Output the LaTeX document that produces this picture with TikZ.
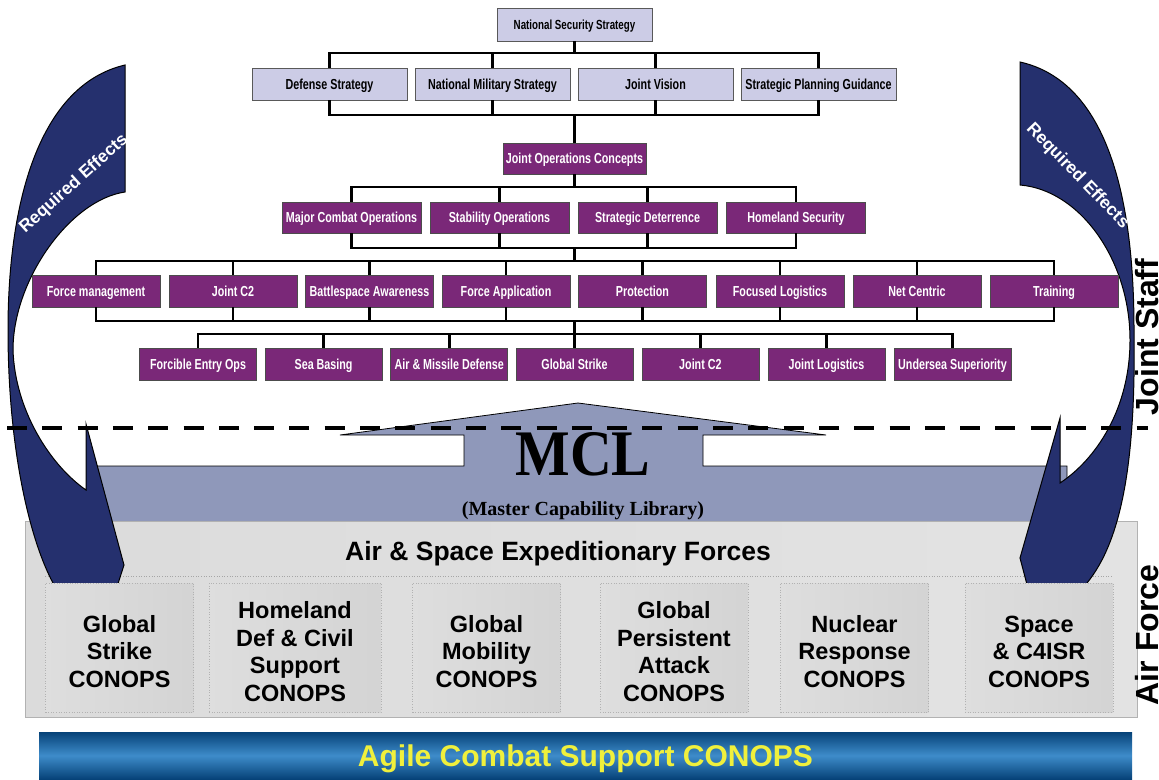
\documentclass[tikz,border=0pt]{standalone}
\usepackage{fontspec}
\setmainfont{Liberation Sans}
\newfontfamily\narrowfont[FakeStretch=0.74]{Liberation Sans}
\newfontfamily\timesfont{Liberation Serif}
\definecolor{lav}{RGB}{204,204,230}
\definecolor{purp}{RGB}{122,40,120}
\definecolor{navy}{RGB}{37,48,110}
\definecolor{mclblue}{RGB}{143,152,186}
\definecolor{barblue}{RGB}{62,140,202}
\definecolor{bardark}{RGB}{6,66,120}
\definecolor{yel}{RGB}{240,240,60}
\begin{document}
\begin{tikzpicture}[x=1pt,y=-1pt,
 conn/.style={line width=2.6pt},
 tbox/.style={line width=0.8pt, inner sep=0pt, minimum height=32pt, text height=10.4pt, text depth=0pt, font={\narrowfont\bfseries\fontsize{14.5}{16}\selectfont}},
 lavbox/.style={tbox, draw=black!65, fill=lav, text=black},
 purbox/.style={tbox, draw=black!70, fill=purp, text=white},
 conbox/.style={draw=black!30, dotted, line width=0.6pt, minimum width=148pt, minimum height=129pt, inner sep=0pt, left color=black!13, middle color=white, right color=black!17},
 context/.style={align=center, inner sep=0pt, font={\bfseries\fontsize{23.5}{27.5}\selectfont}},
 effects/.style={text=white, font={\bfseries\fontsize{17.5}{20}\selectfont}},
 side/.style={font={\bfseries\fontsize{32}{34}\selectfont}, rotate=90, inner sep=0pt},
 arrowshape/.style={fill=navy, draw=black, line width=1pt, line join=miter},
]
\useasboundingbox (0,0) rectangle (1159,779);

% MCL block arrow
\filldraw[fill=mclblue, draw=black, line width=0.8pt]
  (340,435) -- (578,403) -- (826,435) -- (703,435) -- (703,466) -- (1067,466)
  -- (1067,526) -- (92,526) -- (92,466) -- (464,466) -- (464,435) -- cycle;

% Air & Space Expeditionary Forces container
\node[draw=black!30, line width=0.8pt, minimum width=1112pt, minimum height=196pt, inner sep=0pt,
      left color=black!14, middle color=black!6, right color=black!11] (aef) at (581,619) {};
\coordinate (sepl) at (45,576);
\coordinate (sepr) at (1113,576);
\draw[black!35, dotted, line width=0.6pt] (sepl) -- (sepr);
\node[font={\bfseries\fontsize{26.5}{30}\selectfont}, text depth=0pt] (aeft) at (558,551) {Air \& Space Expeditionary Forces};

% Required Effects arrows
\filldraw[arrowshape]
  (125,65) .. controls (40,85) and (8,200) .. (8,330)
  .. controls (8,450) and (30,540) .. (53,583)
  -- (62,615) -- (108,615) -- (124,565) -- (86,424) -- (86,490)
  .. controls (50,465) and (15,410) .. (13,350)
  .. controls (13,280) and (70,200) .. (125,192) -- cycle;
\filldraw[arrowshape]
  (1020,62) .. controls (1100,80) and (1134,180) .. (1134,330)
  .. controls (1136,460) and (1122,540) .. (1087,583)
  -- (1080,615) -- (1035,615) -- (1020,558) -- (1060,418) -- (1060,483)
  .. controls (1095,460) and (1130,410) .. (1130,340)
  .. controls (1130,260) and (1080,190) .. (1020,185) -- cycle;
\node[effects, rotate=42] (rel) at (74,184) {Required Effects};
\node[effects, rotate=-46] (rer) at (1077.5,176) {Required Effects};

% Tree: row 1 and 2
\node[lavbox, minimum width=155pt, minimum height=33pt, text height=9.5pt, font={\narrowfont\bfseries\fontsize{13.2}{15}\selectfont}] (nss) at (574.5,24.5) {National Security Strategy};
\node[lavbox, minimum width=155pt] (ds)  at (329.5,84) {Defense Strategy};
\node[lavbox, minimum width=155pt] (nms) at (492.5,84) {National Military Strategy};
\node[lavbox, minimum width=155pt] (jv)  at (655.5,84) {Joint Vision};
\node[lavbox, minimum width=155pt] (spg) at (818.5,84) {Strategic Planning Guidance};
\node[purbox, minimum width=143pt, minimum height=31pt] (joc) at (574.5,158.5) {Joint Operations Concepts};
% row 3
\node[purbox, minimum width=139pt, minimum height=31pt] (mco) at (351.5,217.5) {Major Combat Operations};
\node[purbox, minimum width=139pt, minimum height=31pt] (so)  at (499.5,217.5) {Stability Operations};
\node[purbox, minimum width=139pt, minimum height=31pt] (sd)  at (647.5,217.5) {Strategic Deterrence};
\node[purbox, minimum width=139pt, minimum height=31pt] (hs)  at (796,217.5) {Homeland Security};
% row 4
\node[purbox, minimum width=128pt] (fm)  at (96,291) {Force management};
\node[purbox, minimum width=128pt] (jc)  at (233,291) {Joint C2};
\node[purbox, minimum width=128pt] (ba)  at (369.5,291) {Battlespace Awareness};
\node[purbox, minimum width=128pt] (fa)  at (506,291) {Force Application};
\node[purbox, minimum width=128pt] (pr)  at (642.5,291) {Protection};
\node[purbox, minimum width=128pt] (fl)  at (780,291) {Focused Logistics};
\node[purbox, minimum width=128pt] (nc)  at (917,291) {Net Centric};
\node[purbox, minimum width=128pt] (tr)  at (1054,291) {Training};
% row 5
\node[purbox, minimum width=117pt] (fe)  at (198,364) {Forcible Entry Ops};
\node[purbox, minimum width=117pt] (sb)  at (323.6,364) {Sea Basing};
\node[purbox, minimum width=117pt] (amd) at (449.2,364) {Air \& Missile Defense};
\node[purbox, minimum width=117pt] (gs)  at (574.5,364) {Global Strike};
\node[purbox, minimum width=117pt] (jcb) at (700.4,364) {Joint C2};
\node[purbox, minimum width=117pt] (jl)  at (826.4,364) {Joint Logistics};
\node[purbox, minimum width=117pt] (us)  at (952.5,364) {Undersea Superiority};

% bracket levels
\coordinate (b1) at (0,53);
\coordinate (b2) at (0,115);
\coordinate (b3) at (0,187);
\coordinate (b4) at (0,248);
\coordinate (b5) at (0,261);
\coordinate (b6) at (0,321);
\coordinate (b7) at (0,334);

% connectors
\draw[conn] (nss.south) -- (nss.south |- b1);
\draw[conn] (ds.north) -- (ds.north |- b1) -- (spg.north |- b1) -- (spg.north);
\draw[conn] (nms.north) -- (nms.north |- b1);
\draw[conn] (jv.north) -- (jv.north |- b1);
\draw[conn] (ds.south) -- (ds.south |- b2) -- (spg.south |- b2) -- (spg.south);
\draw[conn] (nms.south) -- (nms.south |- b2);
\draw[conn] (jv.south) -- (jv.south |- b2);
\draw[conn] (joc.north) -- (joc.north |- b2);

\draw[conn] (joc.south) -- (joc.south |- b3);
\draw[conn] (mco.north) -- (mco.north |- b3) -- (hs.north |- b3) -- (hs.north);
\draw[conn] (so.north) -- (so.north |- b3);
\draw[conn] (sd.north) -- (sd.north |- b3);
\draw[conn] (mco.south) -- (mco.south |- b4) -- (hs.south |- b4) -- (hs.south);
\draw[conn] (so.south) -- (so.south |- b4);
\draw[conn] (sd.south) -- (sd.south |- b4);
\draw[conn] (joc.south |- b4) -- (joc.south |- b5);

\draw[conn] (fm.north) -- (fm.north |- b5) -- (tr.north |- b5) -- (tr.north);
\draw[conn] (jc.north) -- (jc.north |- b5);
\draw[conn] (ba.north) -- (ba.north |- b5);
\draw[conn] (fa.north) -- (fa.north |- b5);
\draw[conn] (pr.north) -- (pr.north |- b5);
\draw[conn] (fl.north) -- (fl.north |- b5);
\draw[conn] (nc.north) -- (nc.north |- b5);
\draw[conn] (fm.south) -- (fm.south |- b6) -- (tr.south |- b6) -- (tr.south);
\draw[conn] (jc.south) -- (jc.south |- b6);
\draw[conn] (ba.south) -- (ba.south |- b6);
\draw[conn] (fa.south) -- (fa.south |- b6);
\draw[conn] (pr.south) -- (pr.south |- b6);
\draw[conn] (fl.south) -- (fl.south |- b6);
\draw[conn] (nc.south) -- (nc.south |- b6);

\draw[conn] (gs.north |- b6) -- (gs.north);
\draw[conn] (fe.north) -- (fe.north |- b7) -- (us.north |- b7) -- (us.north);
\draw[conn] (sb.north) -- (sb.north |- b7);
\draw[conn] (amd.north) -- (amd.north |- b7);
\draw[conn] (jcb.north) -- (jcb.north |- b7);
\draw[conn] (jl.north) -- (jl.north |- b7);

% CONOPS boxes
\node[conbox] (c1) at (119.5,647.5) {};
\node[conbox, minimum width=172pt] (c2) at (295,647.5) {};
\node[conbox] (c3) at (486.5,647.5) {};
\node[conbox] (c4) at (674,647.5) {};
\node[conbox] (c5) at (854.5,647.5) {};
\node[conbox] (c6) at (1039,647.5) {};
\node[context] (t1) at ([yshift=-4pt]c1.center) {Global\\Strike\\CONOPS};
\node[context] (t2) at ([yshift=-4pt]c2.center) {Homeland\\Def \& Civil\\Support\\CONOPS};
\node[context] (t3) at ([yshift=-4pt]c3.center) {Global\\Mobility\\CONOPS};
\node[context] (t4) at ([yshift=-4pt]c4.center) {Global\\Persistent\\Attack\\CONOPS};
\node[context] (t5) at ([yshift=-4pt]c5.center) {Nuclear\\Response\\CONOPS};
\node[context] (t6) at ([yshift=-4pt]c6.center) {Space\\\& C4ISR\\CONOPS};

% dashed divider
\coordinate (dl) at (7,428);
\coordinate (dr) at (1148,428);
\draw[line width=3.6pt, dash pattern=on 20pt off 15.3pt] (dl) -- (dr);

% MCL labels
\node[inner sep=0pt] (mcl) at (583,454.5) {\timesfont\bfseries\fontsize{65}{65}\selectfont\scalebox{0.89}[1]{MCL}};
\node[inner sep=0pt, text depth=0pt] (mclsub) at (583,509) {\timesfont\bfseries\fontsize{20}{22}\selectfont (Master Capability Library)};

% side labels
\node[side] (js) at (1147,337) {Joint Staff};
\node[side] (af) at (1147,635) {Air Force};

% Agile Combat Support bar
\node[minimum width=1093pt, minimum height=47pt, inner sep=0pt, text depth=0pt,
      top color=bardark, bottom color=bardark, middle color=barblue,
      text=yel, font={\bfseries\fontsize{30}{34}\selectfont}] (acs) at (585.5,755.5) {Agile Combat Support CONOPS};
\end{tikzpicture}
\end{document}
